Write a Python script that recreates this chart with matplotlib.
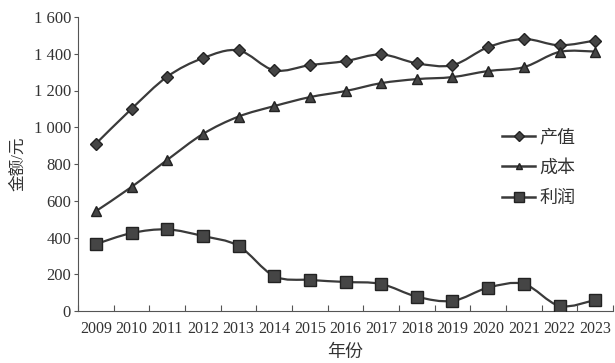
import matplotlib
matplotlib.use("Agg")
import matplotlib.pyplot as plt
from matplotlib.path import Path
from matplotlib.patches import PathPatch
from matplotlib.lines import Line2D

plt.rcParams['font.family'] = ['Liberation Serif', 'Noto Sans CJK SC']

years = ['2009', '2010', '2011', '2012', '2013', '2014', '2015', '2016',
         '2017', '2018', '2019', '2020', '2021', '2022', '2023']
output_value = [910, 1100, 1275, 1376, 1418, 1310, 1338, 1360, 1396, 1348, 1338, 1436, 1480, 1446, 1472]
cost = [543, 675, 822, 963, 1058, 1115, 1164, 1197, 1240, 1262, 1273, 1306, 1327, 1410, 1412]
profit = [364, 424, 444, 408, 354, 190, 169, 158, 147, 78, 55, 127, 147, 28, 60]
series_names = ['产值', '成本', '利润']
ytick_values = [0, 200, 400, 600, 800, 1000, 1200, 1400, 1600]
ytick_labels = ['0', '200', '400', '600', '800', '1 000', '1 200', '1 400', '1 600']

LINE = '#3a3a3a'
FILL = '#454545'


def smooth_path(xs, ys, t=1 / 6):
    verts = [(xs[0], ys[0])]
    codes = [Path.MOVETO]
    n = len(xs)
    for i in range(n - 1):
        x0, y0 = (xs[i - 1], ys[i - 1]) if i > 0 else (xs[i], ys[i])
        x1, y1 = xs[i], ys[i]
        x2, y2 = xs[i + 1], ys[i + 1]
        x3, y3 = (xs[i + 2], ys[i + 2]) if i + 2 < n else (xs[i + 1], ys[i + 1])
        c1 = (x1 + (x2 - x0) * t, y1 + (y2 - y0) * t)
        c2 = (x2 - (x3 - x1) * t, y2 - (y3 - y1) * t)
        verts += [c1, c2, (x2, y2)]
        codes += [Path.CURVE4] * 3
    return Path(verts, codes)


fig = plt.figure(figsize=(6.15, 3.63), dpi=100)
ax = fig.add_axes([78 / 615, 1 - 311 / 363, 535 / 615, 294 / 363])

x = list(range(len(years)))
markers = [('D', 6.0, 5.0), ('^', 7.0, 5.0), ('s', 8.0, 6.5)]
handles = []
for vals, (m, ms, lms), name in zip([output_value, cost, profit], markers, series_names):
    ax.add_patch(PathPatch(smooth_path(x, vals), facecolor='none', edgecolor=LINE,
                           lw=1.6, zorder=2))
    ax.plot(x, vals, linestyle='none', marker=m, markersize=ms,
            markerfacecolor=FILL, markeredgecolor='#222222', markeredgewidth=1.0, zorder=3)
    handles.append(Line2D([], [], color=LINE, lw=1.8, marker=m, markersize=lms,
                          markerfacecolor=FILL, markeredgecolor='#222222', markeredgewidth=1.0,
                          label=name))

ax.set_xlim(-0.5, len(years) - 0.5)
ax.set_ylim(0, 1600)
ax.set_xticks(x)
ax.set_xticklabels(years)
ax.set_xticks([i - 0.5 for i in range(len(years) + 1)], minor=True)
ax.tick_params(axis='x', which='major', length=0, pad=7, labelsize=11.5, labelcolor='#333333')
ax.tick_params(axis='x', which='minor', direction='in', length=4, width=0.8, color='#555555')
ax.set_yticks(ytick_values)
ax.set_yticklabels(ytick_labels)
ax.tick_params(axis='y', direction='out', length=3, width=0.8, color='#555555', pad=2,
               labelsize=12, labelcolor='#333333')

for s in ['top', 'right']:
    ax.spines[s].set_visible(False)
for s in ['left', 'bottom']:
    ax.spines[s].set_color('#555555')
    ax.spines[s].set_linewidth(0.8)

ax.set_ylabel('金额/元', fontsize=12, color='#333333', labelpad=5)
ax.set_xlabel('年份', fontsize=13, color='#333333', labelpad=5)

leg = fig.legend(handles=handles, loc='upper left', bbox_to_anchor=(502 / 615, 1 - 129 / 363),
                 frameon=False, fontsize=13, handlelength=1.83, handletextpad=0.22,
                 labelspacing=0.75, borderpad=0, borderaxespad=0)
for t in leg.get_texts():
    t.set_color('#333333')

fig.savefig('out.png', dpi=100)
